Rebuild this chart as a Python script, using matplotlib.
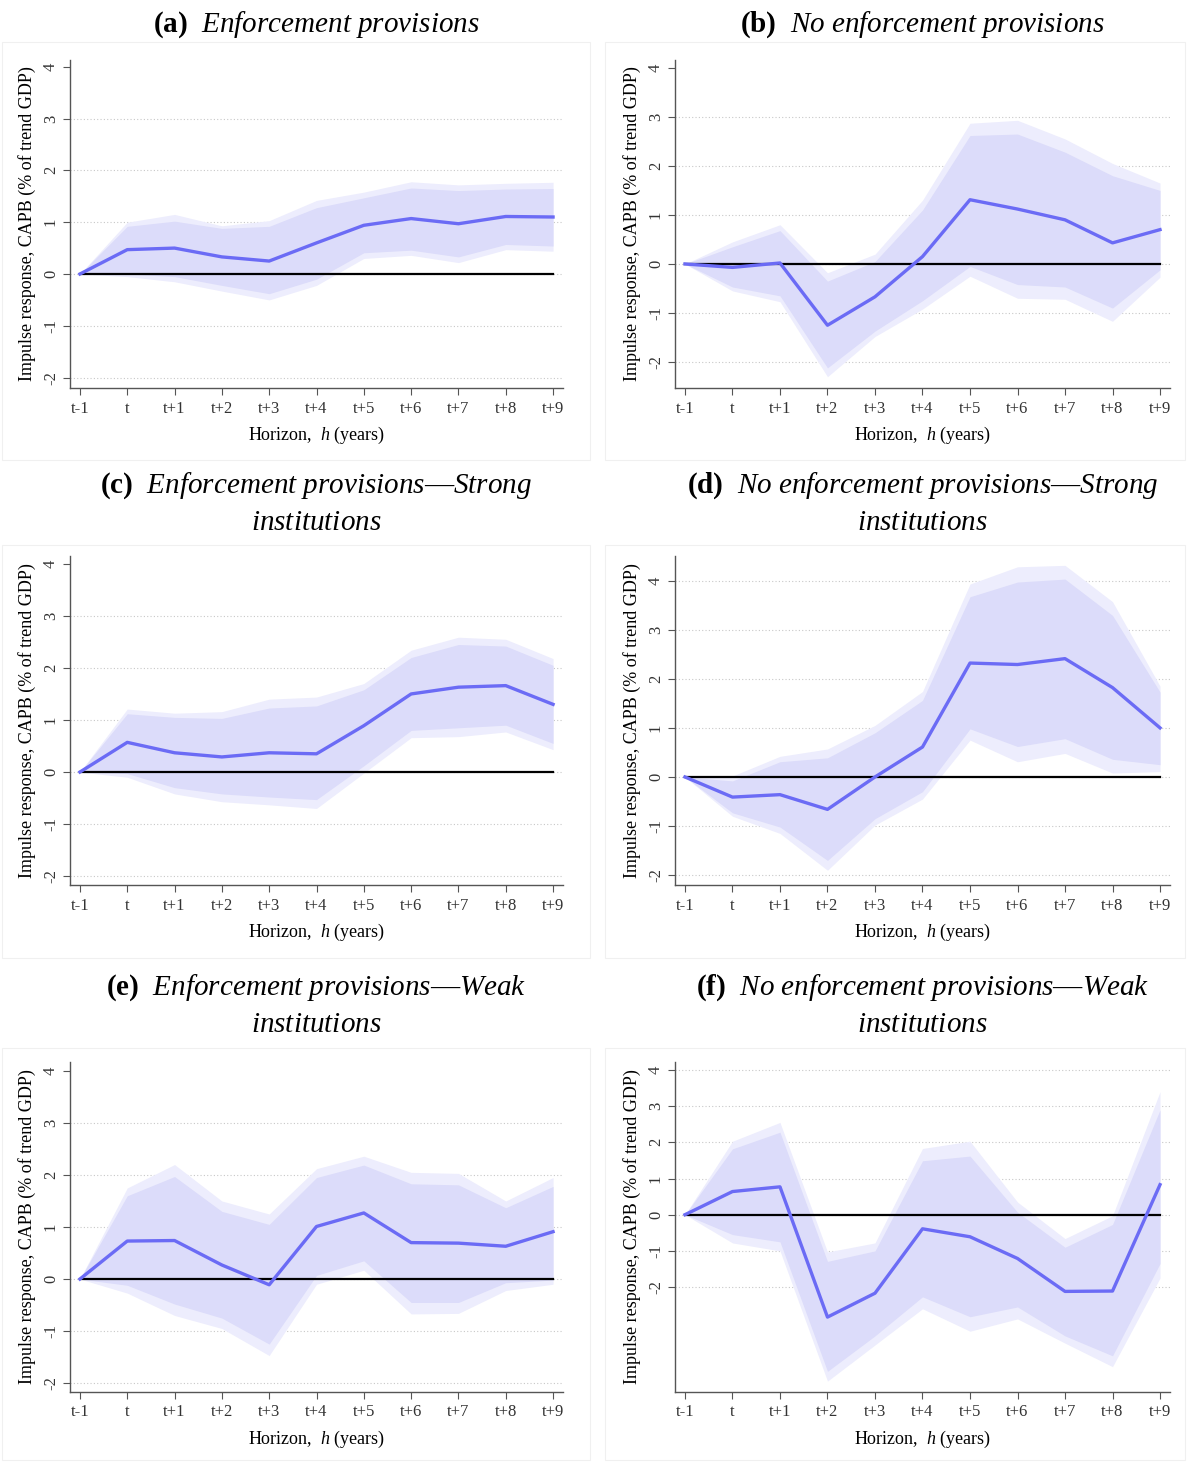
import matplotlib
matplotlib.use("Agg")
import matplotlib.pyplot as plt
from matplotlib.patches import Rectangle
import numpy as np

plt.rcParams["font.family"] = ["Liberation Serif", "DejaVu Serif"]
plt.rcParams["mathtext.fontset"] = "custom"
plt.rcParams["mathtext.rm"] = "Liberation Serif"
plt.rcParams["mathtext.it"] = "Liberation Serif:italic"
plt.rcParams["mathtext.bf"] = "Liberation Serif:bold"
plt.rcParams["axes.unicode_minus"] = False

horizon = ["t-1", "t", "t+1", "t+2", "t+3", "t+4", "t+5", "t+6", "t+7", "t+8", "t+9"]

# (a) enforcement provisions
a_irf = [0, 0.47, 0.50, 0.33, 0.25, 0.60, 0.94, 1.07, 0.97, 1.11, 1.10]
a_hi90 = [0, 0.92, 1.02, 0.88, 0.92, 1.28, 1.47, 1.66, 1.61, 1.64, 1.65]
a_lo90 = [0, 0.00, -0.05, -0.22, -0.38, -0.10, 0.41, 0.46, 0.33, 0.57, 0.54]
a_hi95 = [0, 1.00, 1.15, 0.93, 1.03, 1.42, 1.58, 1.78, 1.72, 1.75, 1.77]
a_lo95 = [0, -0.05, -0.15, -0.33, -0.50, -0.22, 0.30, 0.36, 0.22, 0.47, 0.44]

# (b) no enforcement provisions
b_irf = [0, -0.07, 0.02, -1.25, -0.67, 0.15, 1.31, 1.12, 0.90, 0.43, 0.70]
b_hi90 = [0, 0.35, 0.68, -0.35, 0.05, 1.10, 2.62, 2.65, 2.28, 1.80, 1.50]
b_lo90 = [0, -0.47, -0.65, -2.12, -1.37, -0.75, -0.05, -0.42, -0.47, -0.90, -0.12]
b_hi95 = [0, 0.45, 0.80, -0.18, 0.20, 1.30, 2.87, 2.93, 2.55, 2.05, 1.65]
b_lo95 = [0, -0.55, -0.77, -2.30, -1.48, -0.92, -0.25, -0.70, -0.72, -1.17, -0.27]

# (c) enforcement provisions, strong institutions
c_irf = [0, 0.57, 0.37, 0.29, 0.37, 0.35, 0.89, 1.50, 1.63, 1.66, 1.30]
c_hi90 = [0, 1.12, 1.05, 1.03, 1.23, 1.27, 1.58, 2.20, 2.45, 2.42, 2.05]
c_lo90 = [0, -0.03, -0.30, -0.42, -0.48, -0.53, 0.12, 0.80, 0.85, 0.90, 0.55]
c_hi95 = [0, 1.21, 1.13, 1.16, 1.40, 1.44, 1.70, 2.34, 2.59, 2.55, 2.18]
c_lo95 = [0, -0.10, -0.42, -0.57, -0.63, -0.70, -0.02, 0.66, 0.68, 0.77, 0.43]

# (d) no enforcement provisions, strong institutions
d_irf = [0, -0.41, -0.36, -0.66, 0.00, 0.61, 2.32, 2.29, 2.41, 1.82, 1.00]
d_hi90 = [0, -0.08, 0.31, 0.39, 0.90, 1.56, 3.67, 3.97, 4.03, 3.29, 1.73]
d_lo90 = [0, -0.73, -1.02, -1.70, -0.85, -0.30, 0.98, 0.62, 0.78, 0.36, 0.25]
d_hi95 = [0, 0.02, 0.42, 0.57, 1.05, 1.74, 3.93, 4.28, 4.31, 3.57, 1.85]
d_lo95 = [0, -0.80, -1.15, -1.90, -0.98, -0.45, 0.75, 0.31, 0.48, 0.08, 0.11]

# (e) enforcement provisions, weak institutions
e_irf = [0, 0.73, 0.74, 0.27, -0.11, 1.01, 1.27, 0.70, 0.69, 0.63, 0.91]
e_hi90 = [0, 1.60, 1.97, 1.30, 1.05, 1.95, 2.19, 1.83, 1.81, 1.37, 1.78]
e_lo90 = [0, -0.12, -0.48, -0.75, -1.25, 0.07, 0.35, -0.45, -0.45, -0.07, -0.02]
e_hi95 = [0, 1.75, 2.20, 1.50, 1.25, 2.12, 2.36, 2.05, 2.03, 1.50, 1.95]
e_lo95 = [0, -0.27, -0.70, -0.95, -1.47, -0.10, 0.17, -0.67, -0.66, -0.22, -0.10]

# (f) no enforcement provisions, weak institutions
f_irf = [0, 0.64, 0.77, -2.83, -2.17, -0.39, -0.61, -1.21, -2.12, -2.11, 0.83]
f_hi90 = [0, 1.82, 2.28, -1.29, -1.00, 1.49, 1.62, 0.07, -0.90, -0.27, 2.90]
f_lo90 = [0, -0.55, -0.75, -4.33, -3.35, -2.27, -2.82, -2.55, -3.35, -3.90, -1.35]
f_hi95 = [0, 2.03, 2.55, -1.03, -0.78, 1.83, 2.03, 0.35, -0.66, -0.03, 3.40]
f_lo95 = [0, -0.78, -1.00, -4.60, -3.60, -2.60, -3.22, -2.88, -3.55, -4.20, -1.75]

panels = [
    (r"$\bf{(a)}$  $\it{Enforcement\ provisions}$",
     a_irf, a_lo90, a_hi90, a_lo95, a_hi95, (-2.2, 4.13), range(-2, 4)),
    (r"$\bf{(b)}$  $\it{No\ enforcement\ provisions}$",
     b_irf, b_lo90, b_hi90, b_lo95, b_hi95, (-2.53, 4.16), range(-2, 4)),
    (r"$\bf{(c)}$  $\it{Enforcement\ provisions}$—$\it{Strong}$" + "\n" + r"$\it{institutions}$",
     c_irf, c_lo90, c_hi90, c_lo95, c_hi95, (-2.17, 4.15), range(-2, 4)),
    (r"$\bf{(d)}$  $\it{No\ enforcement\ provisions}$—$\it{Strong}$" + "\n" + r"$\it{institutions}$",
     d_irf, d_lo90, d_hi90, d_lo95, d_hi95, (-2.2, 4.5), range(-2, 5)),
    (r"$\bf{(e)}$  $\it{Enforcement\ provisions}$—$\it{Weak}$" + "\n" + r"$\it{institutions}$",
     e_irf, e_lo90, e_hi90, e_lo95, e_hi95, (-2.17, 4.17), range(-2, 4)),
    (r"$\bf{(f)}$  $\it{No\ enforcement\ provisions}$—$\it{Weak}$" + "\n" + r"$\it{institutions}$",
     f_irf, f_lo90, f_hi90, f_lo95, f_hi95, (-4.9, 4.22), range(-2, 5)),
]

W, H = 1187, 1462
fig = plt.figure(figsize=(W / 100, H / 100), dpi=100)

col_x = [(70, 493), (675, 495)]
row_y = [(60, 388), (556, 885), (1062, 1392)]
box_x = [(2, 590), (605, 1185)]
box_y = [(42, 460), (545, 958), (1048, 1460)]
title_y = [25, 503, 1005]

line_col = "#6b6bf5"
band90 = "#dcdcfa"
band95 = "#ededfd"
x = np.arange(len(horizon))

for k, (title, irf, lo90, hi90, lo95, hi95, ylim, grid_ticks) in enumerate(panels):
    r, c = divmod(k, 2)
    x0, w = col_x[c]
    y0, y1 = row_y[r]
    ax = fig.add_axes([x0 / W, 1 - y1 / H, w / W, (y1 - y0) / H])

    # faint frame around each panel
    bx0, bx1 = box_x[c]
    by0, by1 = box_y[r]
    fig.patches.append(Rectangle((bx0 / W, 1 - by1 / H), (bx1 - bx0) / W, (by1 - by0) / H,
                                 transform=fig.transFigure, fill=False,
                                 edgecolor="#f0f0f0", lw=0.8, zorder=0))

    for g in grid_ticks:
        ax.axhline(g, color="#c8c8c8", lw=0.8, ls=(0, (1, 2)), zorder=0)
    ax.fill_between(x, lo95, hi95, color=band95, lw=0, zorder=1)
    ax.fill_between(x, lo90, hi90, color=band90, lw=0, zorder=2)
    ax.plot(x, np.zeros(len(x)), color="black", lw=1.6, zorder=3)
    ax.plot(x, irf, color=line_col, lw=2.4, zorder=4)

    ax.set_xlim(-0.21, 10.21)
    ax.set_ylim(*ylim)
    ax.set_xticks(x)
    ax.set_xticklabels(horizon)
    ax.set_yticks(list(range(-2, 5)))
    ax.tick_params(axis="y", labelrotation=90, labelsize=12, length=5,
                   color="#555555", labelcolor="#333333", pad=3)
    ax.tick_params(axis="x", labelsize=12, length=5, color="#555555",
                   labelcolor="#333333", pad=4)
    for lab in ax.get_yticklabels():
        lab.set_va("center")
    for s in ["top", "right"]:
        ax.spines[s].set_visible(False)
    for s in ["left", "bottom"]:
        ax.spines[s].set_color("#555555")
        ax.spines[s].set_linewidth(1.0)

    ax.set_ylabel("Impulse response, CAPB (% of trend GDP)", fontsize=13, labelpad=5)
    ax.set_xlabel(r"Horizon,  $\it{h}$ (years)", fontsize=13, labelpad=6)

    cx = (x0 + w / 2) / W
    fig.text(cx, 1 - title_y[r] / H, title, ha="center", va="center",
             fontsize=21, linespacing=1.45)

fig.savefig("out.png", dpi=100, facecolor="white")
